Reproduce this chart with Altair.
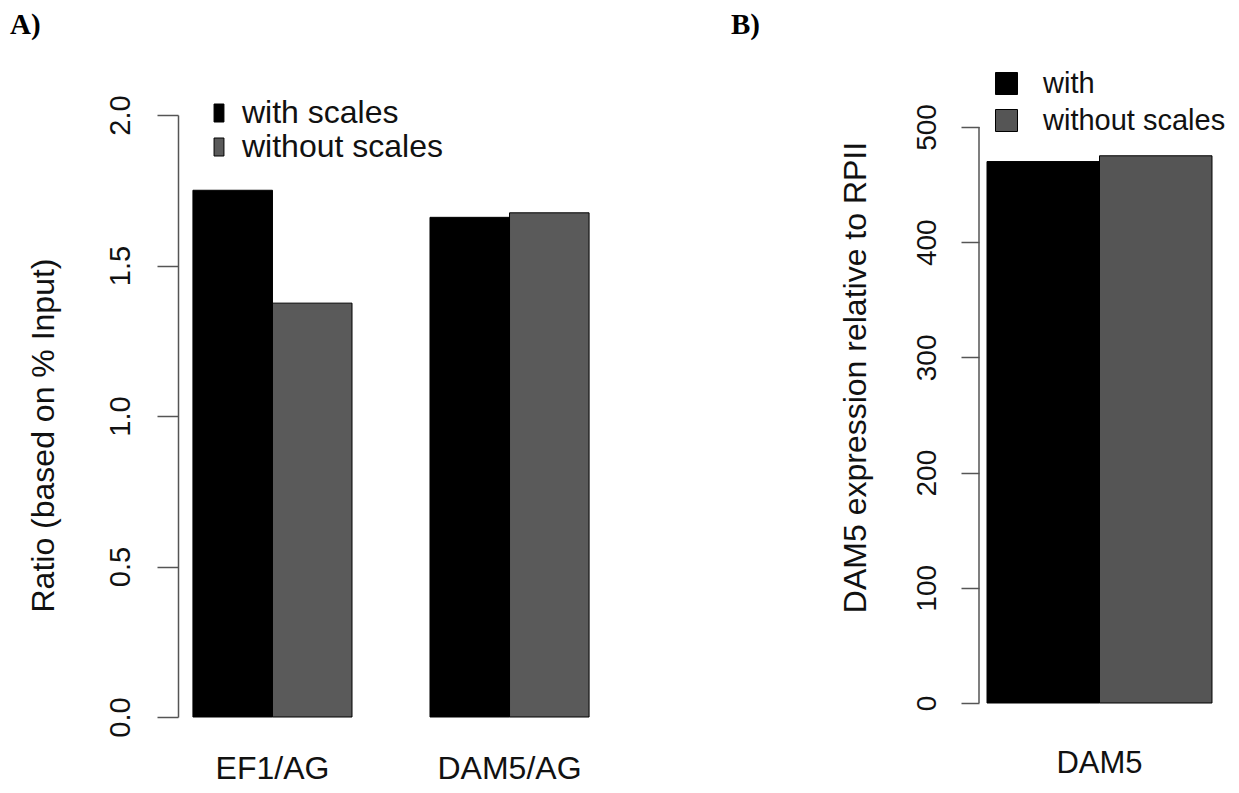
import altair as alt
import pandas as pd

# ---------------- data ----------------
categories_a = ["EF1/AG", "DAM5/AG"]
series_a = ["with scales", "without scales"]
with_scales_a = [1.75, 1.66]
without_scales_a = [1.375, 1.675]
colors_a = ["#000000", "#5a5a5a"]
ticks_a = [0, 0.5, 1.0, 1.5, 2.0]

categories_b = ["DAM5"]
series_b = ["with", "without scales"]
with_b = [470]
without_b = [475]
colors_b = ["#000000", "#555555"]
ticks_b = [0, 100, 200, 300, 400, 500]

FONT = "Liberation Sans"
TEXT = "#111111"
AXIS = "#555555"

df_a = pd.DataFrame({
    "cat_a": categories_a * 2,
    "ser_a": [series_a[0]] * len(categories_a) + [series_a[1]] * len(categories_a),
    "val_a": with_scales_a + without_scales_a,
})
df_b = pd.DataFrame({
    "cat_b": categories_b * 2,
    "ser_b": [series_b[0]] * len(categories_b) + [series_b[1]] * len(categories_b),
    "val_b": with_b + without_b,
})

rect_path = "M-0.55,-1L0.55,-1L0.55,1L-0.55,1Z"

# ---------------- panel A ----------------
bars_a = alt.Chart(df_a).mark_bar(stroke="black", strokeWidth=1).encode(
    x=alt.X("cat_a:N", sort=categories_a,
            scale=alt.Scale(paddingInner=0.329, paddingOuter=0.063),
            axis=alt.Axis(title=None, domain=False, ticks=False, tickSize=0,
                          labelAngle=0, labelFontSize=32, labelFont=FONT,
                          labelColor=TEXT, labelPadding=61,
                          labelBaseline="alphabetic")),
    xOffset=alt.XOffset("ser_a:N", sort=series_a,
                        scale=alt.Scale(domain=series_a, paddingInner=0, paddingOuter=0)),
    y=alt.Y("val_a:Q", scale=alt.Scale(domain=[0, 2], nice=False),
            axis=alt.Axis(values=ticks_a, format=".1f", grid=False,
                          title="Ratio (based on % Input)",
                          tickSize=21, tickWidth=1.5, tickColor=AXIS,
                          domainColor=AXIS, domainWidth=1.5,
                          labelAngle=270, labelAlign="center",
                          labelBaseline="alphabetic", labelPadding=28,
                          labelFontSize=29, labelFont=FONT, labelColor=TEXT,
                          labelOverlap=False,
                          titleAngle=270, titleAlign="center",
                          titleBaseline="alphabetic", titleX=-125, titleY=320,
                          titleFontSize=32, titleFont=FONT,
                          titleFontWeight="normal", titleColor=TEXT)),
    color=alt.Color("ser_a:N", sort=series_a,
                    scale=alt.Scale(domain=series_a, range=colors_a),
                    legend=alt.Legend(orient="none", legendX=25, legendY=-18,
                                      title=None, symbolType=rect_path,
                                      symbolSize=324, symbolStrokeColor="black",
                                      symbolStrokeWidth=1, symbolOpacity=1,
                                      labelFontSize=32, labelFont=FONT,
                                      labelColor=TEXT, labelOffset=7,
                                      labelLimit=400, rowPadding=2, padding=0)),
)

lab_a = alt.Chart(pd.DataFrame({"t": ["A)"]})).mark_text(
    font="Liberation Serif", fontWeight="bold", fontSize=29,
    align="left", baseline="alphabetic", color="black"
).encode(text="t:N", x=alt.value(-168), y=alt.value(-81))

panel_a = alt.layer(bars_a, lab_a).properties(width=426, height=602)

# ---------------- panel B ----------------
bars_b = alt.Chart(df_b).mark_bar(stroke="black", strokeWidth=1).encode(
    x=alt.X("cat_b:N", sort=categories_b,
            scale=alt.Scale(paddingInner=0, paddingOuter=0.0356),
            axis=alt.Axis(title=None, domain=False, ticks=False, tickSize=0,
                          labelAngle=0, labelFontSize=31, labelFont=FONT,
                          labelColor=TEXT, labelPadding=69,
                          labelBaseline="alphabetic")),
    xOffset=alt.XOffset("ser_b:N", sort=series_b,
                        scale=alt.Scale(domain=series_b, paddingInner=0, paddingOuter=0)),
    y=alt.Y("val_b:Q", scale=alt.Scale(domain=[0, 510.4], nice=False),
            axis=alt.Axis(values=ticks_b, format="d", grid=False, domain=False,
                          title="DAM5 expression relative to RPII",
                          tickSize=18, tickWidth=1.5, tickColor=AXIS,
                          labelAngle=270, labelAlign="center",
                          labelBaseline="alphabetic", labelPadding=26,
                          labelFontSize=28, labelFont=FONT, labelColor=TEXT,
                          labelOverlap=False,
                          titleAngle=270, titleAlign="center",
                          titleBaseline="alphabetic", titleX=-114, titleY=262,
                          titleFontSize=32, titleFont=FONT,
                          titleFontWeight="normal", titleColor=TEXT)),
    color=alt.Color("ser_b:N", sort=series_b,
                    scale=alt.Scale(domain=series_b, range=colors_b),
                    legend=alt.Legend(orient="none", legendX=13, legendY=-46,
                                      title=None, symbolType="square",
                                      symbolSize=484, symbolStrokeColor="black",
                                      symbolStrokeWidth=1, symbolOpacity=1,
                                      labelFontSize=29, labelFont=FONT,
                                      labelColor=TEXT, labelOffset=22,
                                      labelLimit=400, rowPadding=7, padding=0)),
)

axis_line_b = alt.Chart(pd.DataFrame({"lo": [ticks_b[0]], "hi": [ticks_b[-1]]})).mark_rule(
    color=AXIS, strokeWidth=1.5
).encode(x=alt.value(0), y=alt.datum(ticks_b[0]), y2=alt.datum(ticks_b[-1]))

lab_b = alt.Chart(pd.DataFrame({"t": ["B)"]})).mark_text(
    font="Liberation Serif", fontWeight="bold", fontSize=29,
    align="left", baseline="alphabetic", color="black"
).encode(text="t:N", x=alt.value(-248), y=alt.value(-81))

panel_b = alt.layer(bars_b, axis_line_b, lab_b).properties(width=241, height=588)

chart = alt.hconcat(panel_a, panel_b, spacing=375, bounds="flush").resolve_scale(
    color="independent", xOffset="independent"
).configure_view(stroke=None).properties(
    padding={"left": 2, "top": 3, "right": 0, "bottom": 0}
)

chart.save("out.html", embed_options={"renderer": "svg", "actions": False})
